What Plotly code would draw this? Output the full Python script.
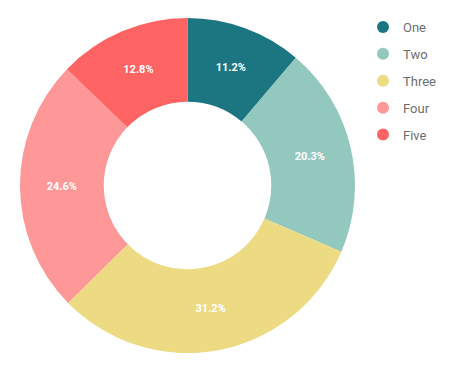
import plotly.graph_objects as go

labels = ["One", "Two", "Three", "Four", "Five"]
values = [11.2, 20.3, 31.2, 24.6, 12.8]
colors = ["#1b7682", "#93c8bf", "#ecdb82", "#fe9797", "#fe6464"]

W, H = 451, 371
fig = go.Figure()
fig.add_trace(go.Pie(
    labels=labels, values=values, hole=0.5, sort=False, direction="clockwise",
    rotation=0, marker=dict(colors=colors, line=dict(width=0)),
    texttemplate="%{value:.1f}%", textinfo="text", textposition="inside",
    insidetextorientation="horizontal",
    textfont=dict(family="Roboto", size=11, color="white", weight="bold"),
    domain=dict(x=[12 / W, 347 / W], y=[1 - 345 / H, 1 - 10 / H]),
    showlegend=False, hoverinfo="label+percent",
))
for lab, col in zip(labels, colors):
    fig.add_trace(go.Scatter(
        x=[None], y=[None], mode="markers", name=lab, legendgroup=lab,
        marker=dict(symbol="circle", size=12, color=col),
    ))

fig.update_layout(
    width=W, height=H, margin=dict(l=0, r=0, t=0, b=0, autoexpand=False),
    paper_bgcolor="white", plot_bgcolor="white",
    xaxis=dict(visible=False), yaxis=dict(visible=False),
    legend=dict(x=355 / W, y=1 - 4 / H, xanchor="left", yanchor="top",
                font=dict(family="Roboto", size=13, color="#6e6e6e"),
                tracegroupgap=7, itemwidth=30),
    font=dict(family="Roboto"),
)
fig.write_html("out.html")
